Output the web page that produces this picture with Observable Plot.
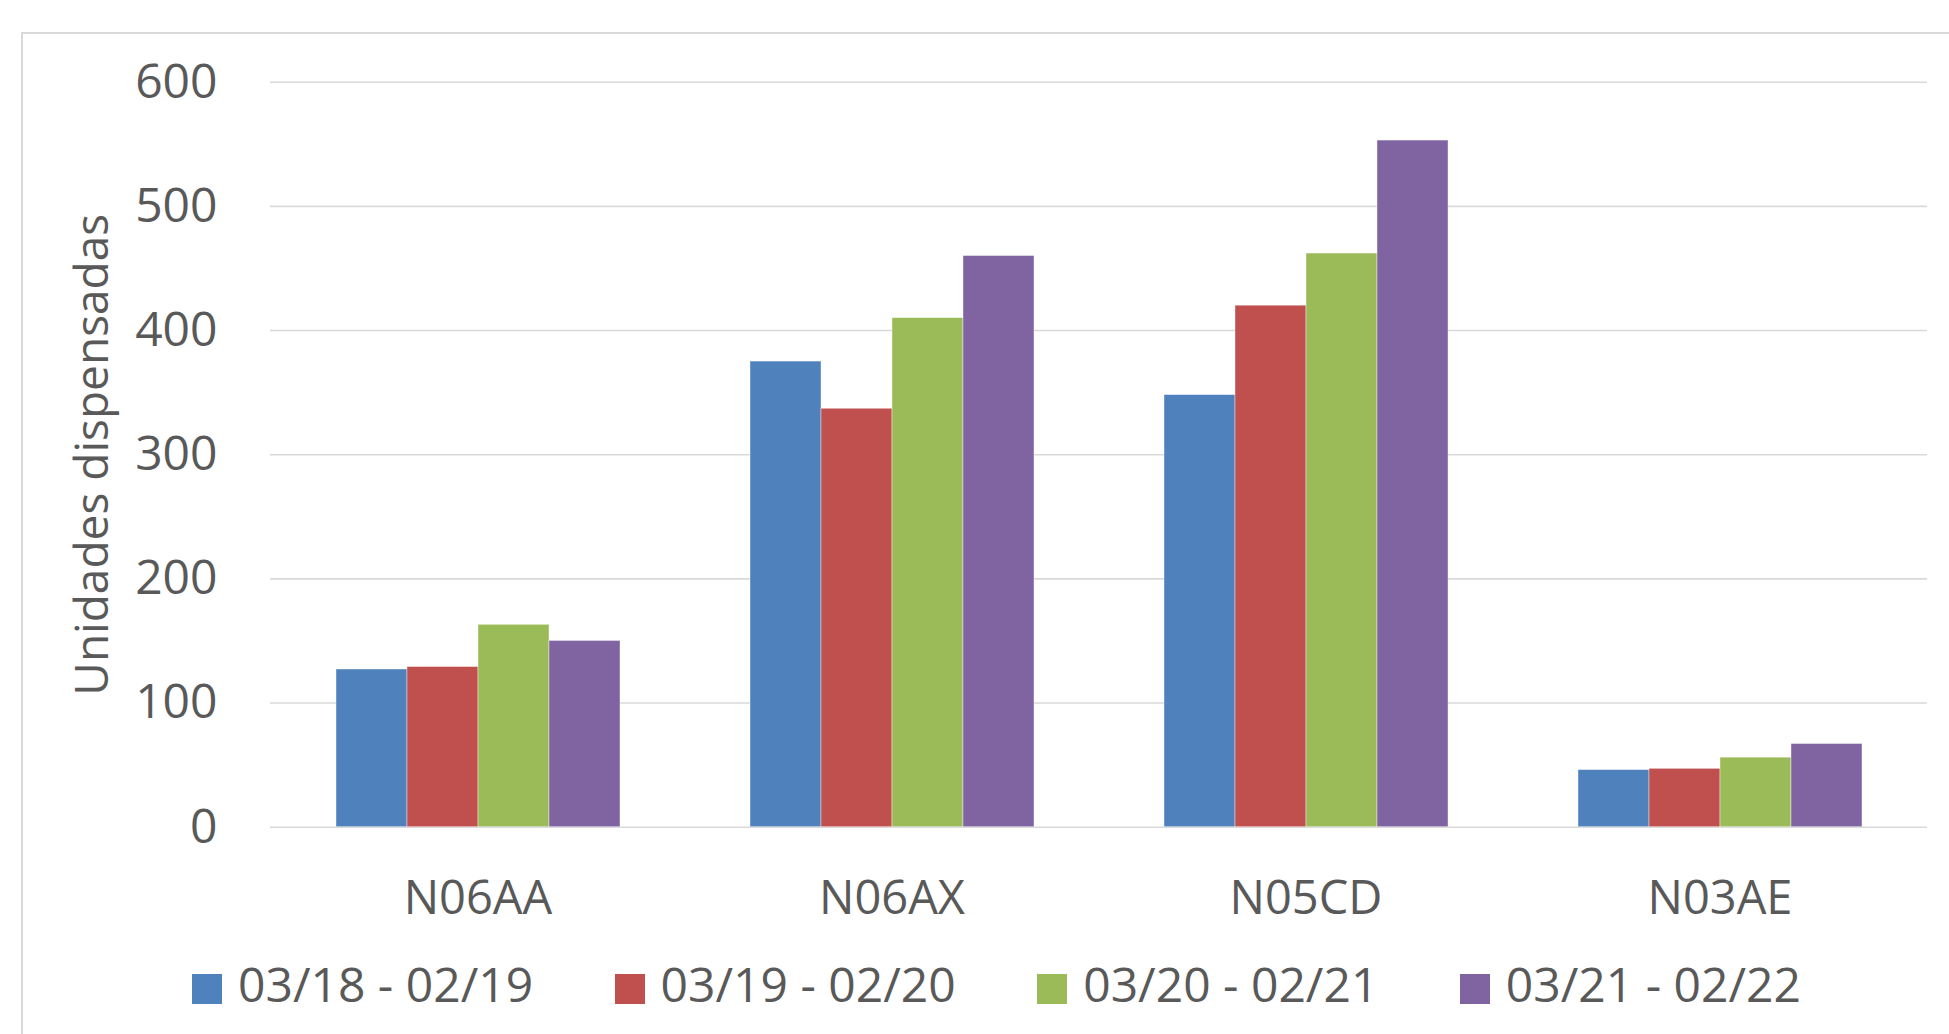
<!DOCTYPE html>
<html>
<head>
<meta charset="utf-8">
<script src="https://cdn.jsdelivr.net/npm/d3@7"></script>
<script src="https://cdn.jsdelivr.net/npm/@observablehq/plot@0.6"></script>
<style>
  html, body { margin: 0; padding: 0; background: #fff; overflow: hidden; width: 1949px; height: 1034px; }
  body { position: relative; font-family: 'Open Sans', sans-serif; color: #595959; }
  #frame { position: absolute; left: 21px; top: 32px; width: 3000px; height: 3000px; border: 2px solid #d9d9d9; pointer-events: none; z-index: 5; }
  #grid, #bars { position: absolute; left: 0; top: 0; }
  #bars { z-index: 2; }
  #legend { position: absolute; left: 192px; top: 954px; display: flex; font-size: 48px; line-height: 60px; }
  .item { display: flex; align-items: center; width: 422.6px; white-space: nowrap; }
  .sw { width: 30px; height: 30px; margin-right: 16px; transform: translateY(5px); flex: none; }
</style>
</head>
<body>
<div id="grid"></div>
<div id="bars"></div>
<div id="legend"></div>
<div id="frame"></div>
<script>
const categories = ["N06AA", "N06AX", "N05CD", "N03AE"];
const periods = ["03/18 - 02/19", "03/19 - 02/20", "03/20 - 02/21", "03/21 - 02/22"];
const v1819 = [127, 375, 348, 46];
const v1920 = [129, 337, 420, 47];
const v2021 = [163, 410, 462, 56];
const v2122 = [150, 460, 553, 67];
const colors = ["#4f81bd", "#c0504d", "#9bbb59", "#8064a2"];
const yTicks = [0, 100, 200, 300, 400, 500, 600];
const yLabel = "Unidades dispensadas";

const series = [v1819, v1920, v2021, v2122];
const data = categories.flatMap((c, i) =>
  periods.map((p, j) => ({category: c, period: p, value: series[j][i]}))
);

const common = {
  width: 1949,
  height: 930,
  marginLeft: 270,
  marginRight: 22,
  marginTop: 81.7,
  marginBottom: 103.3,
  style: {fontFamily: "'Open Sans', sans-serif", fontSize: "47px", color: "#595959", background: "transparent", overflow: "visible"}
};

// Background: continuous gridlines, y tick labels and y title
const gridPlot = Plot.plot({
  ...common,
  y: {domain: [0, 600], axis: null},
  marks: [
    Plot.ruleY(yTicks, {stroke: "#d9d9d9", strokeWidth: 1.6}),
    Plot.text(yTicks, {frameAnchor: "left", y: d => d, text: d => String(d), textAnchor: "end", dx: -53, fontSize: 48, fill: "#595959"}),
    Plot.text([yLabel], {frameAnchor: "left", textAnchor: "middle", dx: -177, rotate: -90, fontSize: 46, fill: "#595959"})
  ]
});
document.getElementById("grid").appendChild(gridPlot);

// Foreground: grouped bars faceted by category
const barPlot = Plot.plot({
  ...common,
  fx: {domain: categories, paddingInner: 0.312, paddingOuter: 0.156, axis: "bottom", tickSize: 0, tickPadding: 53, label: null},
  x: {domain: periods, padding: 0, axis: null},
  y: {domain: [0, 600], axis: null},
  color: {domain: periods, range: colors},
  marks: [
    Plot.barY(data, {fx: "category", x: "period", y: "value", fill: "period", stroke: "#ffffff", strokeWidth: 0.8, strokeOpacity: 0.5})
  ]
});
document.getElementById("bars").appendChild(barPlot);

const legend = d3.select("#legend");
periods.forEach((p, i) => {
  const it = legend.append("div").attr("class", "item");
  it.append("div").attr("class", "sw").style("background", colors[i]);
  it.append("span").text(p);
});
</script>
</body>
</html>
